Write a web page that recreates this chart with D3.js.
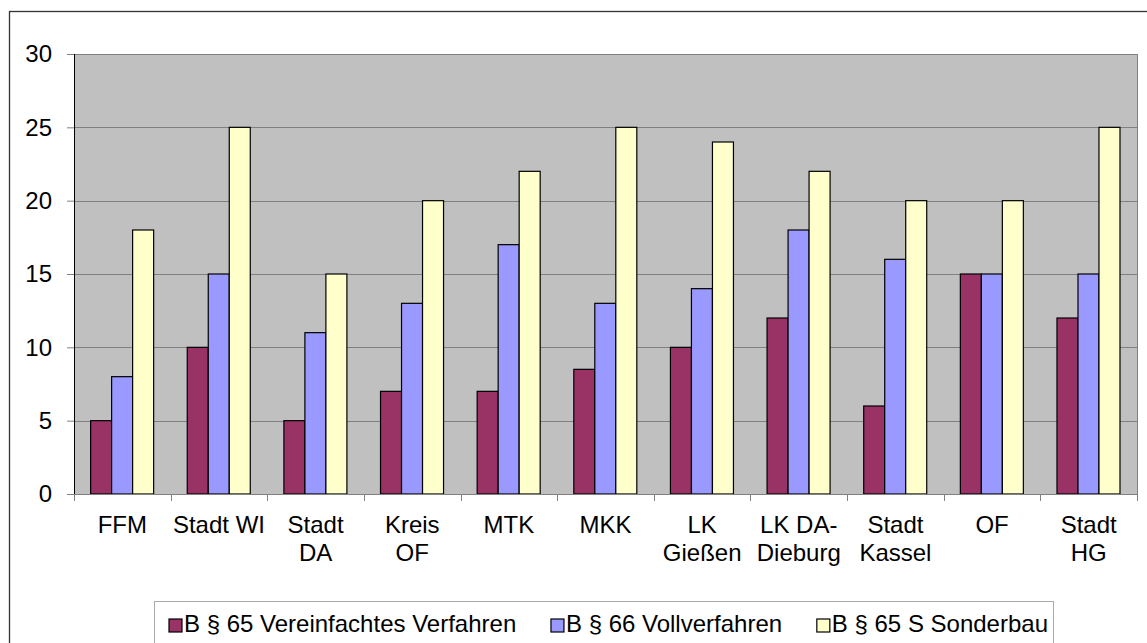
<!DOCTYPE html>
<html><head><meta charset="utf-8">
<script src="https://cdn.jsdelivr.net/npm/d3@7"></script>
<style>body{margin:0;background:#fff}svg{display:block;font-family:"Liberation Sans",Arial,sans-serif}</style>
</head><body><svg id="c" width="1147" height="643"></svg>
<script>
const categories = ["FFM","Stadt WI","Stadt DA","Kreis OF","MTK","MKK","LK Gießen","LK DA-Dieburg","Stadt Kassel","OF","Stadt HG"];
const categoryLabels = [["FFM"],["Stadt WI"],["Stadt","DA"],["Kreis","OF"],["MTK"],["MKK"],["LK","Gießen"],["LK DA-","Dieburg"],["Stadt","Kassel"],["OF"],["Stadt","HG"]];
const seriesNames = ["B § 65 Vereinfachtes Verfahren","B § 66 Vollverfahren","B § 65 S Sonderbau"];
const vereinfacht = [5,10,5,7,7,8.5,10,12,6,15,12];
const voll = [8,15,11,13,17,13,14,18,16,15,15];
const sonderbau = [18,25,15,20,22,25,24,22,20,20,25];
const yTicks = [0,5,10,15,20,25,30];
const colors = ["#993366","#9999FF","#FFFFCC"];

const series = [vereinfacht, voll, sonderbau];
const svg = d3.select("#c");
const L=74, R=1137, T=54, B=494;
// outer frame
svg.append("rect").attr("x",9.5).attr("y",11.5).attr("width",1160).attr("height",660).attr("fill","none").attr("stroke","#333").attr("stroke-width",1.3);

const x = d3.scaleBand().domain(categories).range([L,R]).padding(0);
const y = d3.scaleLinear().domain([0,30]).range([B,T]);
const bw = x.bandwidth();
const x1 = d3.scaleBand().domain([0,1,2]).range([bw*0.172, bw*0.172 + bw*0.652]).padding(0);

svg.append("rect").attr("x",L).attr("y",T).attr("width",R-L).attr("height",B-T).attr("fill","#C0C0C0");
// gridlines
svg.append("g").selectAll("line").data(yTicks.filter(d=>d>0)).join("line")
  .attr("x1",L).attr("x2",R).attr("y1",d=>Math.round(y(d))+0.5).attr("y2",d=>Math.round(y(d))+0.5)
  .attr("stroke","#808080").attr("stroke-width",1);
// right border
svg.append("line").attr("x1",R+0.5).attr("x2",R+0.5).attr("y1",T).attr("y2",B).attr("stroke","#808080");

// bars
const g = svg.append("g");
categories.forEach((c,i)=>{
  series.forEach((s,j)=>{
    g.append("rect")
      .attr("x", x(c)+x1(j)).attr("width", x1.bandwidth())
      .attr("y", y(s[i])).attr("height", y(0)-y(s[i]))
      .attr("fill", colors[j]).attr("stroke","#000").attr("stroke-width",1.2);
  });
});

// y axis
const ya = d3.axisLeft(y).tickValues(yTicks).tickSize(7).tickPadding(15);
const yg = svg.append("g").attr("transform",`translate(${L},0)`).call(ya);
yg.select(".domain").remove();
yg.selectAll(".tick line").attr("stroke","#808080");
yg.selectAll(".tick text").attr("font-size",24).attr("fill","#000").attr("font-family","Liberation Sans, Arial, sans-serif");
svg.append("line").attr("x1",L+0.5).attr("x2",L+0.5).attr("y1",T).attr("y2",B).attr("stroke","#000").attr("stroke-width",1);

// x axis
svg.append("line").attr("x1",L-7).attr("x2",R).attr("y1",B+0.5).attr("y2",B+0.5).attr("stroke","#808080").attr("stroke-width",1.2);
const bounds = categories.map(c=>x(c)).concat([R]);
svg.append("g").selectAll("line").data(bounds).join("line")
  .attr("x1",d=>Math.round(d)+0.5).attr("x2",d=>Math.round(d)+0.5).attr("y1",B).attr("y2",B+7).attr("stroke","#808080");
const xl = svg.append("g");
categories.forEach((c,i)=>{
  const t = xl.append("text").attr("x", x(c)+bw/2).attr("y",533).attr("text-anchor","middle").attr("font-size",24).attr("fill","#000");
  categoryLabels[i].forEach((line,k)=>{
    t.append("tspan").attr("x", x(c)+bw/2).attr("dy", k===0?0:28).text(line);
  });
});

// legend
const lg = svg.append("g");
lg.append("rect").attr("x",154.5).attr("y",601.5).attr("width",899).attr("height",42).attr("fill","#fff").attr("stroke","#aaa");
const texts = seriesNames.map(n=>lg.append("text").attr("y",632).attr("font-size",24).attr("fill","#000").text(n));
const widths = texts.map(t=>t.node().getComputedTextLength());
const start = 169, end = 1048, sq = 13, off = 15;
const gap = (end - start - widths.reduce((a,b)=>a+b,0) - 3*off) / 2;
let lx = start;
seriesNames.forEach((n,j)=>{
  lg.append("rect").attr("x",lx).attr("y",619).attr("width",sq).attr("height",sq).attr("fill",colors[j]).attr("stroke","#000").attr("stroke-width",1.2);
  texts[j].attr("x",lx+off);
  lx = lx + off + widths[j] + gap;
});
</script></body></html>
